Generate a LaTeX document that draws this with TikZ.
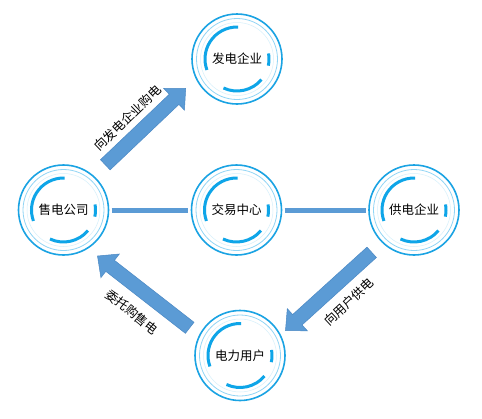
\documentclass[tikz,border=0pt]{standalone}
\usepackage{fontspec}
\newfontfamily\cjk{Noto Sans CJK SC}
\usetikzlibrary{calc}
\definecolor{ringA}{HTML}{1AA3E3}
\definecolor{ringB}{HTML}{92D5F5}
\definecolor{ringC}{HTML}{D6F0FB}
\definecolor{arcC}{HTML}{0EA5E8}
\definecolor{flow}{HTML}{5B9BD5}
\definecolor{flowedge}{HTML}{4A88C4}
\newcommand\myblockarrow[2]{%
  \coordinate (#1-b) at ($(#2)!16pt!(#1)$);
  \filldraw[blockar]
    ($(#1)!7pt!90:(#2)$) -- ($(#1-b)!7pt!90:(#2)$) -- ($(#1-b)!15pt!90:(#2)$) --
    (#2) --
    ($(#1-b)!15pt!-90:(#2)$) -- ($(#1-b)!7pt!-90:(#2)$) -- ($(#1)!7pt!-90:(#2)$) -- cycle;
}
\begin{document}
\begin{tikzpicture}[x=1pt,y=-1pt,
  ent/.style={circle, minimum size=93pt, inner sep=0pt, font=\cjk\fontsize{12.5}{14}\selectfont},
  ringa/.style={draw=ringA, line width=1.6pt},
  ringb/.style={draw=ringB, line width=0.8pt},
  ringc/.style={draw=ringC, line width=0.5pt},
  thickarc/.style={draw=arcC, line width=3pt},
  link/.style={draw=flow, line width=5pt, shorten >=1.5pt, shorten <=1.5pt},
  blockar/.style={fill=flow, draw=flowedge, line width=0.5pt, line join=miter},
  lbl/.style={fill=white, inner sep=1pt, font=\cjk\fontsize{12.5}{14}\selectfont}
]
\useasboundingbox (0,0) rectangle (482,418);
\fill[white] (0,0) rectangle (482,418);

\node[ent] (fa) at (237,59) {发电企业};
\node[ent] (jy) at (236.5,210) {交易中心};
\node[ent] (shou) at (63.5,210) {售电公司};
\node[ent] (gong) at (414,210) {供电企业};
\node[ent] (yh) at (240,355.5) {电力用户};

\foreach \n in {fa,jy,shou,gong,yh}{
  \draw[ringa] (\n.center) circle[radius=45pt];
  \draw[ringb] (\n.center) circle[radius=40.5pt];
  \draw[ringc] (\n.center) circle[radius=36.5pt];
  \draw[thickarc] ([shift={(88:32pt)}]\n.center) arc[start angle=88,end angle=200,radius=32pt];
  \draw[thickarc] ([shift={(-12:32pt)}]\n.center) arc[start angle=-12,end angle=10,radius=32pt];
  \draw[thickarc] ([shift={(245:32pt)}]\n.center) arc[start angle=245,end angle=320,radius=32pt];
}

\draw[link] (shou.east) -- (jy.west);
\draw[link] (jy.east) -- (gong.west);

\coordinate (t1) at (105.3,164.8);
\coordinate (p1) at (185.7,88.3);
\coordinate (t2) at (371.7,252.3);
\coordinate (p2) at (285.5,330.5);
\coordinate (t3) at (189.7,327.8);
\coordinate (p3) at (97.5,256);
\myblockarrow{t1}{p1}
\myblockarrow{t2}{p2}
\myblockarrow{t3}{p3}

\node[lbl, rotate=44] (l1) at (128,118) {向发电企业购电};
\node[lbl, rotate=43] (l2) at (349,302) {向用户供电};
\node[lbl, rotate=-39] (l3) at (132,312) {委托购售电};
\end{tikzpicture}
\end{document}
